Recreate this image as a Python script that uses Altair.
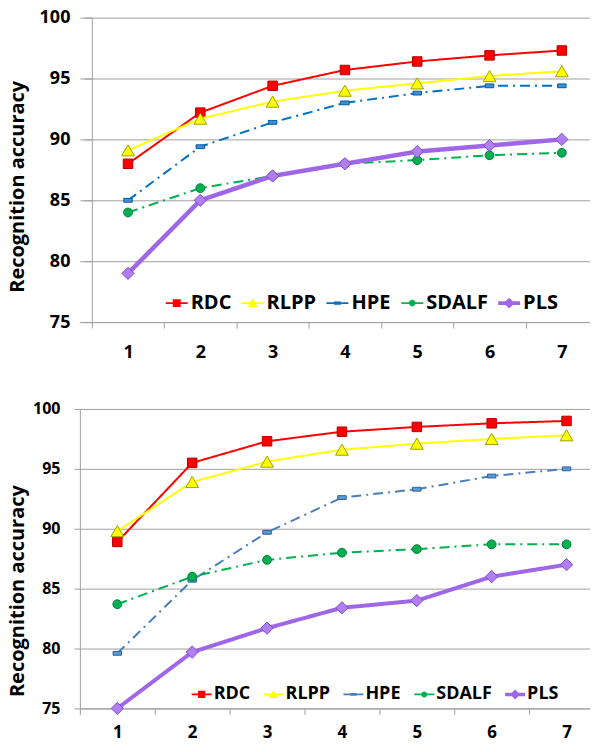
import altair as alt
import pandas as pd

# ---------------- data ----------------
categories = [1, 2, 3, 4, 5, 6, 7]
series_names = ["RDC", "RLPP", "HPE", "SDALF", "PLS"]

top_rdc = [88.0, 92.2, 94.4, 95.7, 96.4, 96.9, 97.3]
top_rlpp = [89.1, 91.7, 93.1, 94.0, 94.6, 95.2, 95.6]
top_hpe = [85.0, 89.4, 91.4, 93.0, 93.8, 94.4, 94.4]
top_sdalf = [84.0, 86.0, 87.0, 88.0, 88.3, 88.7, 88.9]
top_pls = [79.0, 85.0, 87.0, 88.0, 89.0, 89.5, 90.0]

bot_rdc = [88.9, 95.5, 97.3, 98.1, 98.5, 98.8, 99.0]
bot_rlpp = [89.8, 93.9, 95.6, 96.6, 97.1, 97.5, 97.8]
bot_hpe = [79.6, 85.7, 89.7, 92.6, 93.3, 94.4, 95.0]
bot_sdalf = [83.7, 86.0, 87.4, 88.0, 88.3, 88.7, 88.7]
bot_pls = [75.0, 79.7, 81.7, 83.4, 84.0, 86.0, 87.0]

y_ticks = [75, 80, 85, 90, 95, 100]
y_title = "Recognition accuracy"


def build_df(series_values):
    rows = []
    for name, vals in zip(series_names, series_values):
        for c, v in zip(categories, vals):
            rows.append({"series": name, "k": c, "acc": v})
    return pd.DataFrame(rows)


df_top = build_df([top_rdc, top_rlpp, top_hpe, top_sdalf, top_pls])
df_bot = build_df([bot_rdc, bot_rlpp, bot_hpe, bot_sdalf, bot_pls])

# ---------------- styles ----------------
FONT = "Open Sans"
GRID = "#A0A0A0"

HPE_MARK = "M-1,-0.45H1V0.45H-1Z"


def leg_path(marker, thick=0.09):
    line = f"M-1,-{thick}H1V{thick}H-1Z"
    return line + marker


LEG_PATHS = [
    leg_path("M-0.36,-0.36H0.36V0.36H-0.36Z"),
    leg_path("M0,-0.42L0.46,0.36L-0.46,0.36Z"),
    leg_path("M-0.32,-0.14H0.32V0.14H-0.32Z"),
    leg_path("M-0.3,0A0.3,0.3,0,1,1,0.3,0A0.3,0.3,0,1,1,-0.3,0Z"),
    leg_path("M0,-0.5L0.5,0L0,0.5L-0.5,0Z", thick=0.17),
]


def styles(hpe_line, hpe_fill, hpe_stroke, pls_w):
    return [
        dict(line="#FF0000", dash=[1, 0], width=2, shape="square", size=90,
             fill="#FF0000", stroke="#B80000"),
        dict(line="#FFFF00", dash=[1, 0], width=2, shape="triangle-up", size=165,
             fill="#FFFF00", stroke="#A0A000"),
        dict(line=hpe_line, dash=[10, 5, 2, 5], width=2, shape=HPE_MARK, size=72,
             fill=hpe_fill, stroke=hpe_stroke),
        dict(line="#00B050", dash=[10, 5, 2, 5], width=2, shape="circle", size=78,
             fill="#00B050", stroke="#00803C"),
        dict(line="#A066E8", dash=[1, 0], width=pls_w, shape="diamond", size=150,
             fill="#B07EF0", stroke="#7E4EC6"),
    ]


def panel(df, w, h, xmin, unit, p):
    xmax = xmin + w / unit
    half = unit / 2.0
    x = alt.X(
        "k:Q",
        scale=alt.Scale(domain=[xmin, xmax], nice=False, zero=False),
        axis=alt.Axis(
            values=[c - 0.5 for c in categories],
            labelExpr="format(datum.value + 0.5, 'd')",
            labelOffset=half,
            labelFlush=False,
            labelOverlap=False,
            labelFont=FONT,
            labelFontWeight="bold",
            labelFontSize=p["xlab"],
            labelColor="black",
            labelPadding=p["xpad"],
            tickSize=6,
            tickColor=GRID,
            domainColor=GRID,
            grid=False,
            title=None,
        ),
    )
    y = alt.Y(
        "acc:Q",
        scale=alt.Scale(domain=[75, 100], nice=False, zero=False),
        axis=alt.Axis(
            values=y_ticks,
            offset=p["yoff"],
            labelFont=FONT,
            labelFontWeight="bold",
            labelFontSize=p["ylab"],
            labelColor="black",
            labelPadding=p["ypad"],
            tickSize=p["ytick"],
            tickColor=GRID,
            domainColor=GRID,
            gridColor=GRID,
            grid=True,
            title=y_title,
            titleFont=FONT,
            titleFontWeight="bold",
            titleFontSize=p["title"],
            titleColor="black",
            titleX=p["titleX"],
            titleY=p["titleY"],
            titleAlign="center",
            titleBaseline="middle",
            titleAngle=270,
        ),
    )
    layers = []
    for name, st in zip(series_names, p["styles"]):
        base = alt.Chart(df).transform_filter(alt.datum.series == name)
        layers.append(
            base.mark_line(color=st["line"], strokeDash=st["dash"],
                           strokeWidth=st["width"], clip=False).encode(x=x, y=y, order="k:Q")
        )
        layers.append(
            base.mark_point(shape=st["shape"], size=st["size"], filled=True,
                            fill=st["fill"], stroke=st["stroke"], strokeWidth=1,
                            opacity=1).encode(x=x, y=y)
        )
    leg = alt.Legend(
        orient="none",
        legendX=p["legX"],
        legendY=p["legY"],
        direction="horizontal",
        title=None,
        labelFont=FONT,
        labelFontWeight="bold",
        labelFontSize=p["legfont"],
        labelColor="black",
        labelOffset=p["legoff"],
        labelLimit=300,
        columnPadding=p["colpad"],
        padding=0,
        symbolSize=p["symsize"],
        symbolStrokeWidth=0,
        symbolOpacity=1,
    )
    legend_layer = (
        alt.Chart(df)
        .transform_filter("false")
        .mark_point(filled=True)
        .encode(
            x=x,
            y=y,
            color=alt.Color("series:N",
                            scale=alt.Scale(domain=series_names,
                                            range=[s["line"] for s in p["styles"]]),
                            legend=leg),
            shape=alt.Shape("series:N",
                            scale=alt.Scale(domain=series_names, range=LEG_PATHS),
                            legend=leg),
        )
    )
    layers.append(legend_layer)
    return alt.layer(*layers).properties(width=w, height=h)


TOP_UNIT = 72.43
top = panel(
    df_top, 511, 305, 0.5 - 12 / TOP_UNIT, TOP_UNIT,
    dict(xlab=18, xpad=15, ylab=18, ypad=14, ytick=8, yoff=-12, title=20,
         titleX=-74, titleY=169, legX=86, legY=275, legfont=20, legoff=3,
         colpad=10, symsize=484,
         styles=styles("#0070C0", "#3E8FD8", "#005C9E", 4.5)),
)
bottom = panel(
    df_bot, 511, 300, 0.5, 75.0,
    dict(xlab=17, xpad=10, ylab=16, ypad=14, ytick=6, yoff=0, title=20,
         titleX=-62, titleY=182, legX=112, legY=276, legfont=18, legoff=2,
         colpad=13, symsize=400,
         styles=styles("#4A7EBB", "#5B9BD5", "#2F5F9A", 4)),
)

chart = (
    alt.concat(top, bottom, columns=1, spacing=40)
    .resolve_scale(color="independent", shape="independent")
    .resolve_legend(color="independent", shape="independent")
    .properties(padding={"left": 0, "top": 0, "right": 0, "bottom": 1},
                background="white")
    .configure_view(stroke=None)
)

chart.save("out.html", embed_options={"renderer": "svg", "actions": False})
